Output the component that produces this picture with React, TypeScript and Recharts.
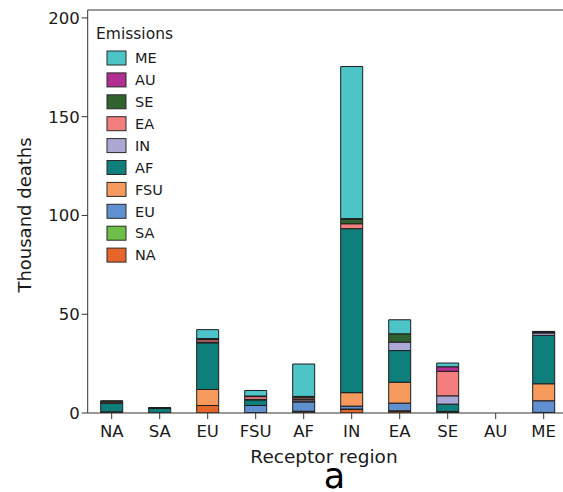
import React from 'react';
import { BarChart, Bar, XAxis, YAxis, Customized } from 'recharts';

// Receptor regions (x categories) and emission source regions (stacked series)
const receptors = ['NA', 'SA', 'EU', 'FSU', 'AF', 'IN', 'EA', 'SE', 'AU', 'ME'];
const sources = ['NA', 'SA', 'EU', 'FSU', 'AF', 'IN', 'EA', 'SE', 'AU', 'ME'];

// Thousand deaths in each receptor region caused by emissions from a source region
// (values listed in receptor order: NA, SA, EU, FSU, AF, IN, EA, SE, AU, ME)
const fromNA = [0, 0.1, 3.8, 0.2, 0.6, 1.9, 1.0, 0.2, 0, 0.3];
const fromSA = [0.1, 0, 0, 0, 0.3, 0.1, 0.1, 0, 0, 0];
const fromEU = [0.3, 0, 0, 3.6, 4.7, 1.5, 3.9, 0.3, 0, 5.9];
const fromFSU = [0.2, 0, 8.1, 0, 0.5, 6.8, 10.6, 0.3, 0, 8.6];
const fromAF = [4.3, 2.2, 23.6, 2.8, 0, 83.0, 16.0, 3.7, 0, 24.5];
const fromIN = [0.1, 0, 0.4, 0.3, 0.8, 0, 4.3, 4.2, 0, 1.2];
const fromEA = [0.6, 0.2, 1.2, 1.4, 0.8, 2.5, 0, 12.4, 0, 0.4];
const fromSE = [0.2, 0.1, 0.5, 0.3, 0.6, 2.3, 4.2, 0, 0, 0.3];
const fromAU = [0.1, 0, 0.1, 0, 0.1, 0.3, 0, 2.3, 0, 0.1];
const fromME = [0.3, 0.1, 4.5, 2.8, 16.4, 77.0, 7.1, 1.9, 0, 0];

const yTicks = [0, 50, 100, 150, 200];

const seriesValues: Record<string, number[]> = {
  NA: fromNA,
  SA: fromSA,
  EU: fromEU,
  FSU: fromFSU,
  AF: fromAF,
  IN: fromIN,
  EA: fromEA,
  SE: fromSE,
  AU: fromAU,
  ME: fromME,
};

const colors: Record<string, string> = {
  NA: '#e6652a',
  SA: '#6dbf48',
  EU: '#6090cf',
  FSU: '#f79a5e',
  AF: '#0e7f7b',
  IN: '#aca8d6',
  EA: '#f37e7e',
  SE: '#30622f',
  AU: '#b02f90',
  ME: '#4cc4c8',
};

const data = receptors.map((region, i) => {
  const row: Record<string, string | number> = { region };
  sources.forEach((s) => {
    row[s] = seriesValues[s][i];
  });
  return row;
});

const FONT = '"DejaVu Sans", Verdana, sans-serif';
const AXIS = '#333333';

const PLOT_LEFT = 87.7;
const PLOT_TOP = 10;
const PLOT_BOTTOM = 413;
const CHART_W = 576;
const CHART_H = 492;
const PLOT_RIGHT = 567.7;

function Decorations() {
  const legendOrder = [...sources].reverse();
  return (
    <g>
      {/* top frame line */}
      <line x1={PLOT_LEFT} y1={PLOT_TOP} x2={PLOT_RIGHT} y2={PLOT_TOP} stroke={AXIS} strokeWidth={1} />
      {/* axis titles */}
      <text
        x={31}
        y={215}
        transform="rotate(-90 31 215)"
        textAnchor="middle"
        fontFamily={FONT}
        fontSize={18}
        fill="#1a1a1a"
      >
        Thousand deaths
      </text>
      <text x={324} y={463} textAnchor="middle" fontFamily={FONT} fontSize={18.5} fill="#1a1a1a">
        Receptor region
      </text>
      <text x={334.5} y={488} textAnchor="middle" fontFamily={FONT} fontSize={35} fill="#000">
        a
      </text>
      {/* legend */}
      <text x={96} y={39} fontFamily={FONT} fontSize={15.5} fill="#1a1a1a">
        Emissions
      </text>
      {legendOrder.map((s, i) => {
        const cy = 58 + i * 21.9;
        return (
          <g key={s}>
            <rect x={107} y={cy - 7} width={19} height={14} fill={colors[s]} stroke="#2a2a2a" strokeWidth={1} />
            <text x={135} y={cy + 5.2} fontFamily={FONT} fontSize={14.5} fill="#1a1a1a">
              {s}
            </text>
          </g>
        );
      })}
    </g>
  );
}

export default function App() {
  return (
    <div
      style={{
        position: 'absolute',
        left: 0,
        top: 0,
        width: 563,
        height: CHART_H,
        overflow: 'hidden',
        background: '#fff',
      }}
    >
      <BarChart
        width={CHART_W}
        height={CHART_H}
        data={data}
        margin={{ top: PLOT_TOP, right: CHART_W - PLOT_RIGHT, left: 0, bottom: 0 }}
      >
        <XAxis
          dataKey="region"
          type="category"
          height={CHART_H - PLOT_BOTTOM}
          axisLine={{ stroke: AXIS, strokeWidth: 1 }}
          tickLine={{ stroke: AXIS, strokeWidth: 1 }}
          tickSize={6}
          tickMargin={6}
          interval={0}
          tick={{ fill: '#1a1a1a', fontSize: 16.5, fontFamily: FONT }}
        />
        <YAxis
          type="number"
          domain={[0, 204]}
          ticks={yTicks}
          width={PLOT_LEFT}
          allowDataOverflow
          axisLine={{ stroke: AXIS, strokeWidth: 1 }}
          tickLine={{ stroke: AXIS, strokeWidth: 1 }}
          tickSize={6}
          tickMargin={2}
          tick={{ fill: '#1a1a1a', fontSize: 16.5, fontFamily: FONT }}
        />
        {sources.map((s) => (
          <Bar
            key={s}
            dataKey={s}
            stackId="emissions"
            fill={colors[s]}
            stroke="#1e1e1e"
            strokeWidth={1}
            barSize={22}
            isAnimationActive={false}
          />
        ))}
        <Customized component={Decorations} />
      </BarChart>
    </div>
  );
}
